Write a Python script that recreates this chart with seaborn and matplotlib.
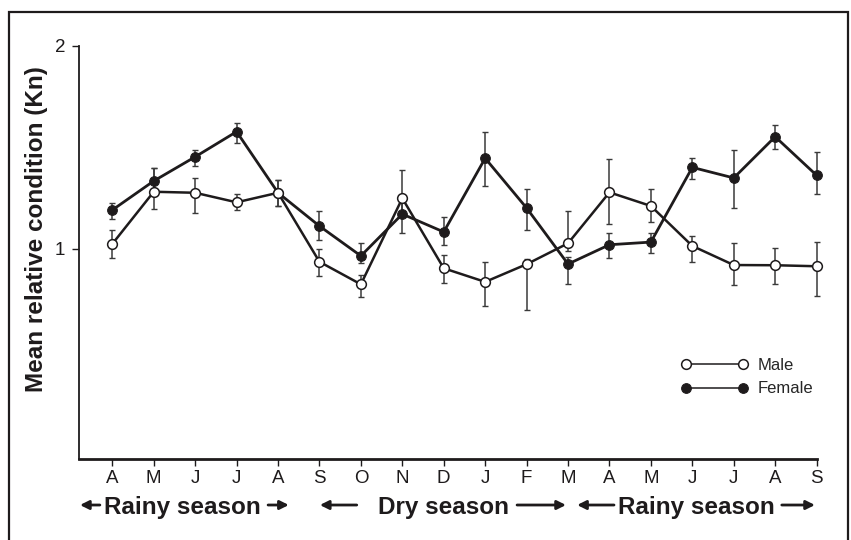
import numpy as np
import pandas as pd
import matplotlib.pyplot as plt
from matplotlib.patches import Rectangle
import seaborn as sns

months = ['A', 'M', 'J', 'J', 'A', 'S', 'O', 'N', 'D', 'J', 'F', 'M', 'A', 'M', 'J', 'J', 'A', 'S']

female_mean = [1.192, 1.335, 1.454, 1.578, 1.277, 1.113, 0.966, 1.172, 1.084, 1.447, 1.202, 0.926,
               1.021, 1.034, 1.402, 1.350, 1.553, 1.363]
female_low = [1.148, 1.266, 1.410, 1.520, 1.212, 1.044, 0.930, 1.077, 1.020, 1.310, 1.094, 0.826,
              0.954, 0.979, 1.345, 1.203, 1.491, 1.271]
female_high = [1.225, 1.400, 1.487, 1.622, 1.340, 1.189, 1.028, 1.240, 1.156, 1.578, 1.294, 0.960,
               1.077, 1.077, 1.447, 1.487, 1.612, 1.479]

male_mean = [1.025, 1.282, 1.277, 1.230, 1.277, 0.937, 0.826, 1.250, 0.905, 0.838, 0.925, 1.028,
             1.279, 1.212, 1.015, 0.921, 0.920, 0.915]
male_low = [0.954, 1.197, 1.176, 1.192, 1.212, 0.869, 0.765, 1.170, 0.831, 0.719, 0.700, 0.990,
            1.123, 1.135, 0.938, 0.823, 0.828, 0.770]
male_high = [1.095, 1.400, 1.350, 1.272, 1.340, 1.000, 0.870, 1.389, 0.970, 0.938, 0.950, 1.189,
             1.442, 1.294, 1.066, 1.030, 1.006, 1.036]

seasons = ['Rainy season', 'Dry season', 'Rainy season']

sns.set_style('ticks')
plt.rcParams['font.family'] = ['Liberation Sans', 'DejaVu Sans']
ink = '#1e1b1c'

df = pd.DataFrame({'idx': np.arange(len(months)), 'month': months,
                   'female': female_mean, 'female_low': female_low, 'female_high': female_high,
                   'male': male_mean, 'male_low': male_low, 'male_high': male_high})

fig = plt.figure(figsize=(8.51, 5.4), dpi=100)
ax = fig.add_axes([79 / 851, 1 - 459 / 540, (816.6 - 79) / 851, (459 - 46) / 540])

# error bars
for s in ['female', 'male']:
    _, caps, bars = ax.errorbar(df['idx'], df[s], yerr=[df[s] - df[s + '_low'], df[s + '_high'] - df[s]],
                                fmt='none', ecolor='#3a3a3a', elinewidth=1.1, capsize=2.2, capthick=1,
                                zorder=2)
    for c in caps:
        c.set_clip_on(False)
    for b in bars:
        b.set_clip_on(False)

sns.lineplot(data=df, x='idx', y='female', ax=ax, color=ink, linewidth=2.0, marker='o', markersize=7,
             markerfacecolor=ink, markeredgecolor=ink, label='Female', zorder=3, clip_on=False)
sns.lineplot(data=df, x='idx', y='male', ax=ax, color=ink, linewidth=1.8, marker='o', markersize=7,
             markerfacecolor='white', markeredgecolor=ink, markeredgewidth=1.1, label='Male', zorder=4,
             clip_on=False)

ax.set_xlim(-0.804, 17)
ax.set_ylim(-0.0345, 2)
ax.set_xticks(df['idx'])
ax.set_xticklabels(months, fontsize=13.5)
ax.set_yticks([1, 2])
ax.set_yticklabels(['1', '2'], fontsize=13.5)
ax.tick_params(axis='x', length=5, width=1, pad=3, colors=ink)
ax.tick_params(axis='y', length=5, width=1, pad=5, colors=ink)
ax.set_xlabel('')
ax.set_ylabel('Mean relative condition (Kn)', fontsize=17.5, fontweight='bold', color=ink)
ax.yaxis.set_label_coords(-0.0424, 0.557)
sns.despine(ax=ax)
ax.spines['bottom'].set_linewidth(2)
ax.spines['left'].set_linewidth(1.3)
ax.spines['bottom'].set_color(ink)
ax.spines['left'].set_color(ink)

# legend, male first
h, l = ax.get_legend_handles_labels()
order = [l.index('Male'), l.index('Female')]
leg = ax.legend([h[i] for i in order], [l[i] for i in order], numpoints=2, frameon=False,
                loc='upper left', bbox_to_anchor=(681 / 851, 1 - 358 / 540), bbox_transform=fig.transFigure,
                borderpad=0, borderaxespad=0, handlelength=4.0, handletextpad=0.6, labelspacing=0.5,
                prop={'size': 12})
for hh in leg.legend_handles:
    hh.set_linewidth(1.1)

# season labels with arrows below the month ticks
trans = ax.get_xaxis_transform()
arrows = [(-0.30, -0.78), (3.76, 4.26), (5.90, 5.01), (9.77, 10.95), (12.11, 11.22), (16.16, 16.96)]
text_x = [1.69, 7.99, 14.1]
for name, tx in zip(seasons, text_x):
    ax.text(tx, -0.1332, name, transform=trans, ha='center', va='baseline', fontsize=17.5,
            fontweight='bold', color=ink, clip_on=False)
for x0, x1 in arrows:
    ax.annotate('', xy=(x1, -0.1114), xytext=(x0, -0.1114), xycoords=trans, textcoords=trans,
                arrowprops=dict(arrowstyle='-|>', lw=2, color=ink, mutation_scale=13,
                                shrinkA=0, shrinkB=0), annotation_clip=False)

# frame around the figure
fig.add_artist(Rectangle((9 / 851, -0.05), (848 - 9) / 851, 1.05 - 12 / 540, transform=fig.transFigure,
                         fill=False, lw=1.6, edgecolor=ink))

fig.savefig('out.png', dpi=100)
